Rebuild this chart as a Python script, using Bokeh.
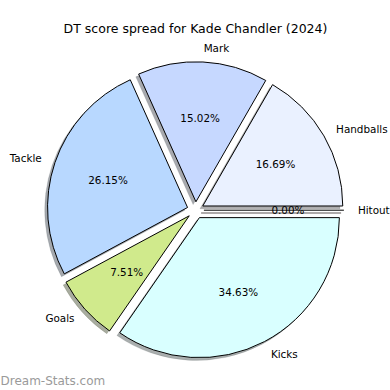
import numpy as np
from bokeh.plotting import figure
from bokeh.models import ColumnDataSource, Range1d
from bokeh.embed import file_html
from bokeh.resources import INLINE
from bokeh.core.properties import value

# ---- data ----
labels = ["Handballs", "Mark", "Tackle", "Goals", "Kicks", "Hitout"]
shares = [16.69, 15.02, 26.15, 7.51, 34.63, 0.00]
colors = ["#eaf1ff", "#c6d8ff", "#b8d8ff", "#d0ea8c", "#d9ffff", "#ffe0e0"]
title = "DT score spread for Kade Chandler (2024)"
watermark = "Dream-Stats.com"

# ---- layout ----
W = H = 390
R_PX = 140.0                  # pie radius in px
CX_PX, CY_PX = 195.0, 209.7   # pie centre in px from top-left of plot
EXPLODE = 0.06
SHADOW = 0.02
FONT = value("DejaVu Sans")

vals = np.array(shares, dtype=float)
frac = vals / vals.sum()
cum = np.concatenate([[0.0], np.cumsum(frac)])
start = 2 * np.pi * cum[:-1]
end = 2 * np.pi * cum[1:]
mid = (start + end) / 2
ox = EXPLODE * np.cos(mid)
oy = EXPLODE * np.sin(mid)

def darken(h, f=0.3):
    h = h.lstrip("#")
    r, g, b = (int(h[i:i + 2], 16) for i in (0, 2, 4))
    return "#%02x%02x%02x" % (int(r * f), int(g * f), int(b * f))

shadow_cols = [darken(c) for c in colors]
lx = ox + 1.1 * np.cos(mid)
ly = oy + 1.1 * np.sin(mid)
nz = vals > 0
zz = ~nz

wsrc = ColumnDataSource(dict(
    x=ox[nz], y=oy[nz], sx=ox[nz] - SHADOW, sy=oy[nz] - SHADOW,
    start=start[nz], end=end[nz],
    color=[c for c, k in zip(colors, nz) if k],
    shadow=[c for c, k in zip(shadow_cols, nz) if k],
))
zsrc = ColumnDataSource(dict(
    x0=ox[zz], y0=oy[zz],
    x1=ox[zz] + np.cos(start[zz]), y1=oy[zz] + np.sin(start[zz]),
    sx0=ox[zz] - SHADOW, sy0=oy[zz] - SHADOW,
    sx1=ox[zz] + np.cos(start[zz]) - SHADOW, sy1=oy[zz] + np.sin(start[zz]) - SHADOW,
    shadow=[c for c, k in zip(shadow_cols, zz) if k],
))
tsrc = ColumnDataSource(dict(
    lx=lx, ly=ly, label=labels,
    align=["left" if v > 0 else "right" for v in lx],
    px=ox + 0.6 * np.cos(mid), py=oy + 0.6 * np.sin(mid),
    pct=["%.2f%%" % (100 * f) for f in frac],
))

p = figure(width=W, height=H, output_backend="svg", toolbar_location=None,
           x_range=Range1d(-CX_PX / R_PX, (W - CX_PX) / R_PX),
           y_range=Range1d(-(H - CY_PX) / R_PX, CY_PX / R_PX),
           x_axis_type=None, y_axis_type=None, min_border=0)
p.grid.visible = False
p.outline_line_color = None
p.background_fill_color = "white"
p.border_fill_color = "white"

# shadows
p.wedge(x="sx", y="sy", radius=1.0, start_angle="start", end_angle="end",
        fill_color="shadow", fill_alpha=0.45, line_color="shadow", line_alpha=0.3,
        line_width=0.5, source=wsrc)
p.segment(x0="sx0", y0="sy0", x1="sx1", y1="sy1", line_color="shadow",
          line_alpha=0.45, line_width=2, source=zsrc)
# wedges
p.wedge(x="x", y="y", radius=1.0, start_angle="start", end_angle="end",
        fill_color="color", line_color="black", line_width=1, source=wsrc)
p.segment(x0="x0", y0="y0", x1="x1", y1="y1", line_color="black",
          line_width=1, source=zsrc)

# labels
p.text(x="lx", y="ly", text="label", text_align="align", text_baseline="middle",
       text_font=FONT, text_font_size="10.4px", text_color="black", source=tsrc)
p.text(x="px", y="py", text="pct", text_align="center", text_baseline="middle",
       text_font=FONT, text_font_size="10.4px", text_color="black", source=tsrc)

# title
p.text(x=[0.0], y=[(CY_PX - 28) / R_PX], text=[title], text_align="center",
       text_baseline="middle", text_font=FONT, text_font_size="12.5px",
       text_color="black")

# watermark
p.text(x=[-CX_PX / R_PX], y=[(CY_PX - 380) / R_PX],
       text=[watermark], text_align="left", text_baseline="middle",
       text_font=FONT, text_font_size="12px", text_color="#9a9a9a")

open("out.html", "w").write(file_html(p, INLINE))
